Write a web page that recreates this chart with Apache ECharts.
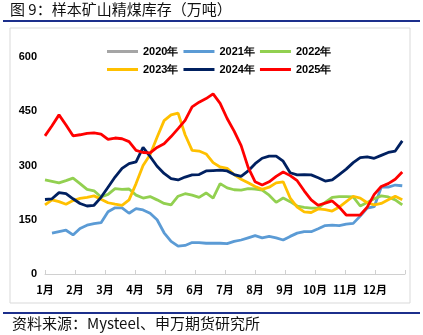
<!DOCTYPE html>
<html>
<head>
<meta charset="utf-8">
<script src="https://cdn.jsdelivr.net/npm/echarts@6/dist/echarts.min.js"></script>
<style>html,body{margin:0;padding:0;background:#fff;}#c{width:423px;height:335px;}</style>
</head>
<body>
<div id="c"></div>
<script>
// ---- data (weekly samples, 万吨) ----
const months = ['1月','2月','3月','4月','5月','6月','7月','8月','9月','10月','11月','12月'];
const yTicks = [0, 150, 300, 450, 600];
const seriesNames = ['2020年','2021年','2022年','2023年','2024年','2025年'];

const s2020 = [];
const s2021 = [null,113,117,121,108,126,135,139,142,172,183,183,168,181,177,168,150,114,90,77,79,87,87,85,85,85,84,90,94,100,106,100,104,100,94,104,113,117,117,125,134,135,134,138,140,160,182,186,240,240,246,244];
const s2022 = [260,256,252,258,265,250,234,230,213,220,236,234,235,218,210,214,205,195,191,215,222,218,212,224,210,250,238,233,232,236,235,232,218,198,210,200,188,184,182,182,198,212,214,214,213,188,198,208,216,213,205,191];
const s2023 = [191,205,200,193,203,209,212,216,207,197,193,190,205,250,300,330,378,424,440,445,385,342,340,332,308,296,292,275,262,252,242,234,240,252,255,210,185,172,170,180,178,174,185,200,215,210,197,191,195,205,215,205];
const s2024 = [206,208,225,222,208,195,188,190,212,240,268,292,305,310,350,325,298,278,264,260,268,274,275,285,286,287,285,275,270,285,305,320,326,326,312,280,274,275,274,266,257,260,275,290,308,322,324,320,328,336,340,368];
const s2025 = [382,410,440,412,382,385,389,390,387,372,376,374,366,342,336,335,350,360,380,402,425,462,475,485,498,472,430,395,355,295,255,246,255,270,282,272,258,230,205,190,196,202,185,163,163,163,185,220,242,250,262,282];

const colors = ['#A5A5A5','#5B9BD5','#92D050','#FFC000','#002060','#FF0000'];
const MONTHS_PER_WEEK = 0.2335;

function toPts(arr){ return arr.map((v,i)=>[i*MONTHS_PER_WEEK, v]); }
const allData = [s2020,s2021,s2022,s2023,s2024,s2025];

const chart = echarts.init(document.getElementById('c'), null, {renderer:'canvas'});
const legendText = {color:'#000', fontSize:11, fontWeight:'bold', fontFamily:'Liberation Sans, Arial, sans-serif'};
const option = {
  animation:false,
  backgroundColor:'#fff',
  grid:{left:45, right:18, top:57, bottom:61},
  legend:[
    {data:seriesNames.slice(0,3), left:102, top:41, icon:'rect', itemWidth:31, itemHeight:3, itemGap:5, textStyle:legendText, selectedMode:false},
    {data:seriesNames.slice(3,6), left:102, top:59, icon:'rect', itemWidth:31, itemHeight:3, itemGap:5, textStyle:legendText, selectedMode:false}
  ],
  xAxis:{
    type:'value', min:0, max:12, interval:1,
    axisLine:{show:true, lineStyle:{color:'#d0d0d0', width:1}},
    axisTick:{show:true, inside:true, length:4, lineStyle:{color:'#d0d0d0'}},
    splitLine:{show:false},
    axisLabel:{margin:10, color:'#000', fontSize:11, fontWeight:'bold', fontFamily:'Noto Sans CJK SC, sans-serif',
      formatter:(v)=> (v>=0 && v<12) ? months[Math.round(v)] : ''}
  },
  yAxis:{
    type:'value', min:yTicks[0], max:yTicks[yTicks.length-1], interval:150,
    axisLine:{show:false}, axisTick:{show:false}, splitLine:{show:false},
    axisLabel:{margin:8, color:'#000', fontSize:11, fontWeight:'bold', fontFamily:'Liberation Sans, Arial, sans-serif'}
  },
  series: seriesNames.map((n,i)=>({
    name:n, type:'line', data:toPts(allData[i]), showSymbol:false, symbol:'none',
    connectNulls:false, z: i+2,
    lineStyle:{color:colors[i], width:2.8}, itemStyle:{color:colors[i]}
  })),
  graphic:[
    {type:'text', left:10, top:2, style:{text:'图 9：样本矿山精煤库存（万吨）', fill:'#111', font:'15px "Noto Sans CJK SC", sans-serif'}},
    {type:'line', shape:{x1:3,y1:21,x2:420,y2:21}, style:{stroke:'#1c2f8c', lineWidth:2}},
    {type:'rect', shape:{x:10,y:28,width:400,height:275}, style:{fill:'none', stroke:'#d9d9d9', lineWidth:1}},
    {type:'line', shape:{x1:3,y1:313,x2:420,y2:313}, style:{stroke:'#1c2f8c', lineWidth:2}},
    {type:'text', left:12, top:316, style:{text:'资料来源：Mysteel、申万期货研究所', fill:'#111', font:'15px "Noto Sans CJK SC", sans-serif'}}
  ]
};
chart.setOption(option);
</script>
</body>
</html>
